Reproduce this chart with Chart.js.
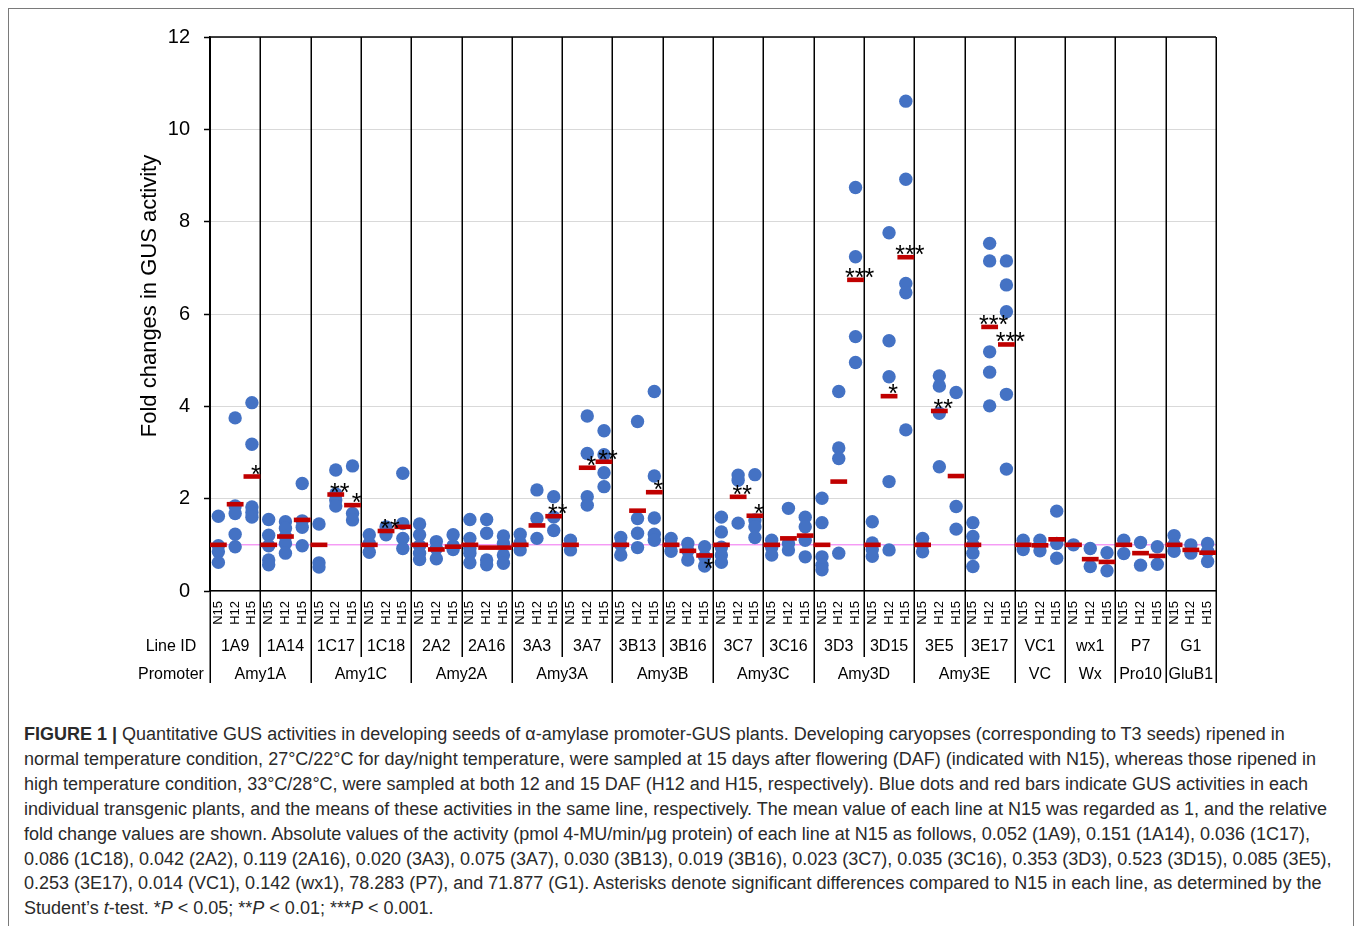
<!DOCTYPE html>
<html>
<head>
<meta charset="utf-8">
<title>Figure 1 - GUS activity</title>
<script src="https://cdn.jsdelivr.net/npm/chart.js@4/dist/chart.umd.min.js"></script>
<style>
  html, body { margin: 0; padding: 0; background: #fff; }
  body { width: 1358px; height: 926px; overflow: hidden; position: relative; font-family: 'Liberation Sans', Arial, sans-serif; }
  #frame { position: absolute; left: 8px; top: 8px; width: 1346px; height: 940px; border: 1px solid #7a7a7a; box-sizing: border-box; }
  #chart { position: absolute; left: 0; top: 0; }
  #caption { position: absolute; left: 24px; top: 722px; font-size: 18px; line-height: 24.9px; color: #2a2a2a; white-space: nowrap; }
</style>
</head>
<body>
<div id="frame"></div>
<canvas id="chart" width="1358" height="700"></canvas>
<div id="caption">
  <div><b>FIGURE 1 |</b> Quantitative GUS activities in developing seeds of α-amylase promoter-GUS plants. Developing caryopses (corresponding to T3 seeds) ripened in</div>
  <div>normal temperature condition, 27°C/22°C for day/night temperature, were sampled at 15 days after flowering (DAF) (indicated with N15), whereas those ripened in</div>
  <div>high temperature condition, 33°C/28°C, were sampled at both 12 and 15 DAF (H12 and H15, respectively). Blue dots and red bars indicate GUS activities in each</div>
  <div>individual transgenic plants, and the means of these activities in the same line, respectively. The mean value of each line at N15 was regarded as 1, and the relative</div>
  <div>fold change values are shown. Absolute values of the activity (pmol 4-MU/min/μg protein) of each line at N15 as follows, 0.052 (1A9), 0.151 (1A14), 0.036 (1C17),</div>
  <div>0.086 (1C18), 0.042 (2A2), 0.119 (2A16), 0.020 (3A3), 0.075 (3A7), 0.030 (3B13), 0.019 (3B16), 0.023 (3C7), 0.035 (3C16), 0.353 (3D3), 0.523 (3D15), 0.085 (3E5),</div>
  <div>0.253 (3E17), 0.014 (VC1), 0.142 (wx1), 78.283 (P7), and 71.877 (G1). Asterisks denote significant differences compared to N15 in each line, as determined by the</div>
  <div>Student’s <i>t</i>-test. *<i>P</i> &lt; 0.05; **<i>P</i> &lt; 0.01; ***<i>P</i> &lt; 0.001.</div>
</div>
<script>
// Lines, promoters and sampling conditions
const conditions = ['N15', 'H12', 'H15'];
const lineIds = ['1A9', '1A14', '1C17', '1C18', '2A2', '2A16', '3A3', '3A7', '3B13', '3B16',
                 '3C7', '3C16', '3D3', '3D15', '3E5', '3E17', 'VC1', 'wx1', 'P7', 'G1'];
const promoters = ['Amy1A', 'Amy1C', 'Amy2A', 'Amy3A', 'Amy3B', 'Amy3C', 'Amy3D', 'Amy3E', 'VC', 'Wx', 'Pro10', 'GluB1'];
const promoterLineCount = [2, 2, 2, 2, 2, 2, 2, 2, 1, 1, 1, 1];
const yTicks = [0, 2, 4, 6, 8, 10, 12];
const yTitle = 'Fold changes in GUS activity';

// Individual plants (fold change), one list per line
const dotsN15 = [
  [1.62, 0.98, 0.85, 0.62], [1.55, 1.21, 0.98, 0.67, 0.57], [1.45, 0.61, 0.52], [1.22, 1.03, 0.84],
  [1.45, 1.22, 0.98, 0.82, 0.68], [1.55, 1.14, 0.92, 0.82, 0.61], [1.23, 1.04, 0.89], [1.1, 0.89],
  [1.16, 1.0, 0.78], [1.14, 1.0, 0.86], [1.6, 1.28, 0.95, 0.78, 0.62], [1.1, 0.95, 0.78],
  [2.01, 1.48, 0.74, 0.56, 0.46], [1.5, 1.04, 0.9, 0.75], [1.14, 1.0, 0.85], [1.48, 1.18, 1.0, 0.82, 0.53],
  [1.1, 1.0, 0.9], [1.0], [1.1, 0.81], [1.2, 1.0, 0.86]
];
const dotsH12 = [
  [3.75, 1.84, 1.68, 1.23, 0.96], [1.5, 1.36, 1.18, 1.03, 0.82], [2.62, 2.1, 1.97, 1.84], [1.39, 1.3, 1.22],
  [1.07, 0.92, 0.7], [1.55, 1.25, 0.67, 0.57], [2.19, 1.57, 1.14], [3.79, 2.98, 2.04, 1.86],
  [3.67, 1.57, 1.25, 0.94], [1.03, 0.87, 0.67], [2.51, 2.4, 1.47], [1.79, 1.03, 0.89],
  [4.32, 3.1, 2.87, 0.82], [7.76, 5.42, 4.64, 2.37, 0.89], [4.66, 4.44, 3.85, 2.69], [7.53, 7.15, 5.18, 4.74, 4.01],
  [1.1, 1.0, 0.87], [0.92, 0.53], [1.05, 0.56], [1.0, 0.82]
];
const dotsH15 = [
  [4.08, 3.18, 1.82, 1.7, 1.6], [2.33, 1.52, 1.38, 0.98], [2.71, 1.68, 1.54], [2.55, 1.46, 1.14, 0.92],
  [1.22, 0.98, 0.9], [1.19, 1.03, 0.78, 0.6], [2.04, 1.6, 1.31], [3.47, 2.95, 2.56, 2.26],
  [4.32, 2.49, 1.58, 1.23, 1.1], [0.96, 0.74, 0.54], [2.52, 1.54, 1.39, 1.16], [1.6, 1.39, 1.1, 0.74],
  [8.74, 7.24, 5.51, 4.95], [10.61, 8.92, 6.66, 6.46, 3.49], [4.3, 1.83, 1.34], [7.15, 6.63, 6.05, 4.26, 2.64],
  [1.73, 1.03, 0.71], [0.83, 0.44], [0.96, 0.58], [1.03, 0.86, 0.64]
];

// Line means (red bars)
const meanN15 = [1, 1, 1, 1, 1, 1, 1, 1, 1, 1, 1, 1, 1, 1, 1, 1, 1, 1, 1, 1];
const meanH12 = [1.88, 1.18, 2.09, 1.3, 0.9, 0.94, 1.42, 2.67, 1.74, 0.87, 2.04, 1.14, 2.37, 4.22, 3.9, 5.72, 0.99, 0.69, 0.82, 0.89];
const meanH15 = [2.48, 1.54, 1.86, 1.39, 0.96, 0.94, 1.62, 2.8, 2.14, 0.77, 1.63, 1.2, 6.74, 7.23, 2.49, 5.34, 1.12, 0.63, 0.76, 0.83];

// Significance vs N15
const sigH12 = ['', '', '**', '**', '', '', '', '*', '', '', '**', '', '', '*', '**', '***', '', '', '', ''];
const sigH15 = ['*', '', '*', '', '', '', '**', '**', '*', '*', '*', '', '***', '***', '', '***', '', '', '', ''];

// star drawn under the bar instead of above
const starsBelow = ['3B16 H15'];

const labels = [];
lineIds.forEach(id => conditions.forEach(c => labels.push(id + ' ' + c)));

const dotPoints = [];
const meanPoints = [];
const starText = [];
lineIds.forEach((id, i) => {
  [dotsN15, dotsH12, dotsH15].forEach((set, c) => {
    set[i].forEach(v => dotPoints.push({ x: id + ' ' + conditions[c], y: v }));
  });
  [meanN15, meanH12, meanH15].forEach((set, c) => {
    meanPoints.push({ x: id + ' ' + conditions[c], y: set[i] });
  });
  starText.push('', sigH12[i], sigH15[i]);
});

const FONT = "'Liberation Sans', Arial, Helvetica, sans-serif";
Chart.defaults.font.family = FONT;
Chart.defaults.color = '#000';

// reference line at 1, line separators, axis title and the label rows
const backgroundMarks = {
  id: 'backgroundMarks',
  beforeDatasetsDraw(chart) {
    const { ctx, chartArea: a, scales: { x, y } } = chart;
    ctx.save();
    const y1 = y.getPixelForValue(1);
    ctx.strokeStyle = '#f06cf0';
    ctx.lineWidth = 1;
    ctx.beginPath();
    ctx.moveTo(a.left, y1);
    ctx.lineTo(a.right, y1);
    ctx.stroke();

    // boundaries between lines, longer ones between promoters
    const promoterEdges = [0];
    promoterLineCount.forEach(n => promoterEdges.push(promoterEdges[promoterEdges.length - 1] + n));
    ctx.strokeStyle = '#000';
    ctx.lineWidth = 1.5;
    for (let k = 0; k <= lineIds.length; k++) {
      const bx = Math.round(x.getPixelForValue(k * 3 - 0.5)) + 0.25;
      const bottom = promoterEdges.includes(k) ? a.bottom + 92 : a.bottom + 66;
      ctx.beginPath();
      ctx.moveTo(bx, a.top);
      ctx.lineTo(bx, bottom);
      ctx.stroke();
    }
    // top border
    ctx.beginPath();
    ctx.moveTo(a.left, a.top);
    ctx.lineTo(a.right, a.top);
    ctx.stroke();

    // y axis title
    ctx.translate(150, 296);
    ctx.rotate(-Math.PI / 2);
    ctx.font = '22px ' + FONT;
    ctx.fillStyle = '#000';
    ctx.textAlign = 'center';
    ctx.textBaseline = 'middle';
    ctx.fillText(yTitle, 0, 0);
    ctx.restore();
  },
  afterDatasetsDraw(chart) {
    const { ctx, chartArea: a, scales: { x } } = chart;
    ctx.save();
    // significance asterisks
    const meta = chart.getDatasetMeta(0);
    ctx.font = '25px ' + FONT;
    ctx.fillStyle = '#000';
    ctx.textAlign = 'center';
    ctx.textBaseline = 'alphabetic';
    meta.data.forEach((pt, j) => {
      if (!starText[j]) return;
      const below = starsBelow.includes(labels[j]);
      ctx.fillText(starText[j], pt.x + 4, below ? pt.y + 22 : pt.y + 6);
    });

    // Line ID and Promoter rows
    ctx.font = '16px ' + FONT;
    ctx.textBaseline = 'middle';
    const rowLine = a.bottom + 56;
    const rowProm = a.bottom + 84;
    ctx.fillText('Line ID', 171, rowLine);
    ctx.fillText('Promoter', 171, rowProm);
    lineIds.forEach((id, i) => {
      ctx.fillText(id, x.getPixelForValue(i * 3 + 1), rowLine);
    });
    let start = 0;
    promoters.forEach((p, i) => {
      const end = start + promoterLineCount[i] * 3;
      const cx = (x.getPixelForValue(start - 0.5) + x.getPixelForValue(end - 0.5)) / 2;
      ctx.fillText(p, cx, rowProm);
      start = end;
    });
    ctx.restore();
  }
};

new Chart(document.getElementById('chart'), {
  type: 'scatter',
  data: {
    labels: labels,
    datasets: [
      {
        label: 'Mean',
        data: meanPoints,
        order: 0,
        pointStyle: 'line',
        pointRadius: 8.4,
        pointHoverRadius: 8.4,
        pointBorderWidth: 4.6,
        pointHoverBorderWidth: 4.6,
        pointBorderColor: '#c00000',
        pointBackgroundColor: '#c00000'
      },
      {
        label: 'Individual plants',
        data: dotPoints,
        order: 1,
        pointRadius: 6.7,
        pointHoverRadius: 6.7,
        pointBorderWidth: 0,
        pointBackgroundColor: '#4472c4'
      }
    ]
  },
  options: {
    responsive: false,
    animation: false,
    events: [],
    layout: { padding: { left: 138, top: 37, right: 142, bottom: 69 } },
    plugins: {
      legend: { display: false },
      tooltip: { enabled: false }
    },
    scales: {
      x: {
        type: 'category',
        labels: labels,
        offset: true,
        grid: { display: false, drawTicks: false },
        border: { display: true, color: '#000', width: 1.5 },
        ticks: {
          autoSkip: false,
          minRotation: 90,
          maxRotation: 90,
          padding: 10,
          color: '#000',
          font: { size: 13 },
          callback(v) { return this.getLabelForValue(v).split(' ')[1]; }
        },
        afterFit(s) { s.height = 40; }
      },
      y: {
        min: 0,
        max: 12,
        afterBuildTicks(s) { s.ticks = yTicks.map(v => ({ value: v })); },
        ticks: { padding: 14, color: '#000', font: { size: 20 } },
        grid: { color: '#d9d9d9', lineWidth: 1, tickLength: 6, tickColor: '#000', tickWidth: 1.5 },
        border: { color: '#000', width: 1.5 },
        title: { display: false },
        afterFit(s) { s.width = 72; }
      }
    }
  },
  plugins: [backgroundMarks]
});
</script>
</body>
</html>
